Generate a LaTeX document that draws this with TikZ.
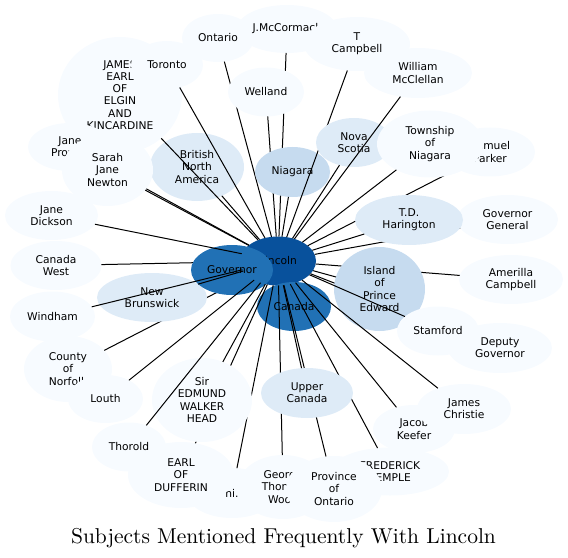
\documentclass[tikz,border=0pt]{standalone}
\usepackage{fontspec}
\usetikzlibrary{shapes.geometric}
\newfontfamily\dvsans{DejaVu Sans}
\newfontfamily\titlefont{lmroman10-regular}[Extension=.otf]
\definecolor{bA}{HTML}{F7FBFF}
\definecolor{bB}{HTML}{DEEBF7}
\definecolor{bC}{HTML}{C6DBEF}
\definecolor{bG}{HTML}{2171B5}
\definecolor{bH}{HTML}{08519C}
\begin{document}
\begin{tikzpicture}[x=1bp,y=-1bp,
  nd/.style={ellipse, inner sep=0pt, outer sep=0pt, align=center, text=black,
    font=\dvsans\fontsize{10.7bp}{12.2bp}\selectfont},
  sz/.style 2 args={minimum width=#1bp, minimum height=#2bp},
  lA/.style={nd, fill=bA}, lB/.style={nd, fill=bB}, lC/.style={nd, fill=bC},
  lG/.style={nd, fill=bG}, lH/.style={nd, fill=bH},
  ed/.style={line width=1bp, black}]
\useasboundingbox (0,0) rectangle (568,558);
\node[lH, sz={76}{49}] (lincoln) at (278,261) {Lincoln};
\node[lA, sz={91}{49}] (canadawest) at (56,265.5) {Canada\\West};
\draw[ed] (lincoln) -- (canadawest);
\node[lA, sz={88}{66}] (norfolk) at (68,369) {County\\of\\Norfolk};
\draw[ed] (lincoln) -- (norfolk);
\node[lA, sz={85}{50}] (windham) at (52.5,316.5) {Windham};
\node[lA, sz={93}{49}] (dickson) at (51.5,215.5) {Jane\\Dickson};
\node[lB, sz={110}{49}] (brunswick) at (152,297.5) {New\\Brunswick};
\node[lG, sz={82}{50}] (governor) at (232,270) {Governor};
\node[lG, sz={74}{49}] (canada) at (294,306.5) {Canada};
\draw[ed] (lincoln) -- (brunswick);
\draw[ed] (lincoln) -- (windham);
\draw[ed] (lincoln) -- (dickson);
\node[lA, sz={75}{48}] (louth) at (105.5,399) {Louth};
\draw[ed] (lincoln) -- (louth);
\node[lA, sz={72}{48}] (ontario) at (218,38) {Ontario};
\draw[ed] (lincoln) -- (ontario);
\node[lA, sz={100}{48}] (mccormack) at (287,29) {J.McCormack};
\draw[ed] (lincoln) -- (mccormack);
\node[lA, sz={76}{49}] (welland) at (266,92) {Welland};
\draw[ed] (lincoln) -- (welland);
\node[lC, sz={75}{50}] (niagara) at (292.5,172) {Niagara};
\draw[ed] (lincoln) -- (niagara);
\node[lA, sz={106}{54}] (tcampbell) at (357,44) {T\\Campbell};
\draw[ed] (lincoln) -- (tcampbell);
\node[lB, sz={76}{49}] (novascotia) at (354,142.5) {Nova\\Scotia};
\draw[ed] (lincoln) -- (novascotia);
\node[lA, sz={108}{50}] (mcclellan) at (418,73) {William\\McClellan};
\draw[ed] (lincoln) -- (mcclellan);
\node[lA, sz={90}{49}] (parker) at (490,152) {Samuel\\Parker};
\draw[ed] (lincoln) -- (parker);
\node[lA, sz={106}{67}] (township) at (430,144) {Township\\of\\Niagara};
\draw[ed] (lincoln) -- (township);
\node[lA, sz={101}{49}] (govgeneral) at (507.5,219.5) {Governor\\General};
\draw[ed] (lincoln) -- (govgeneral);
\node[lB, sz={108}{50}] (harington) at (409,220) {T.D.\\Harington};
\draw[ed] (lincoln) -- (harington);
\node[lA, sz={104}{49}] (amerilla) at (511,279.5) {Amerilla\\Campbell};
\draw[ed] (lincoln) -- (amerilla);
\node[lA, sz={104}{50}] (deputy) at (500,348) {Deputy\\Governor};
\draw[ed] (lincoln) -- (deputy);
\node[lC, sz={91}{84}] (island) at (379.5,289) {Island\\of\\Prince\\Edward};
\draw[ed] (lincoln) -- (island);
\node[lA, sz={82}{49}] (stamford) at (438,331) {Stamford};
\draw[ed] (lincoln) -- (stamford);
\node[lA, sz={82}{48}] (keefer) at (414,429) {Jacob\\Keefer};
\draw[ed] (lincoln) -- (keefer);
\node[lA, sz={94}{50}] (christie) at (464,409) {James\\Christie};
\draw[ed] (lincoln) -- (christie);
\node[lA, sz={90}{50}] (nidot) at (232,493) {ni.};
\draw[ed] (lincoln) -- (nidot);
\node[lA, sz={90}{64}] (wood) at (283,487) {George\\Thomas\\Wood};
\draw[ed] (lincoln) -- (wood);
\node[lA, sz={118}{48}] (temple) at (390,471.5) {FREDERICK\\TEMPLE};
\draw[ed] (lincoln) -- (temple);
\node[lA, sz={96}{66}] (provontario) at (334,489) {Province\\of\\Ontario};
\draw[ed] (lincoln) -- (provontario);
\node[lB, sz={92}{50}] (upper) at (307,393) {Upper\\Canada};
\draw[ed] (lincoln) -- (upper);
\node[lA, sz={106}{66}] (dufferin) at (181,475) {EARL\\OF\\DUFFERIN};
\draw[ed] (lincoln) -- (dufferin);
\node[lA, sz={100}{84}] (head) at (202,400) {Sir\\EDMUND\\WALKER\\HEAD};
\draw[ed] (lincoln) -- (head);
\node[lA, sz={74}{49}] (thorold) at (129,447) {Thorold};
\draw[ed] (lincoln) -- (thorold);
\node[lB, sz={94}{68}] (bna) at (197,167) {British\\North\\America};
\draw[ed] (lincoln) -- (bna);
\node[lA, sz={124}{116}] (elgin) at (120,95) {JAMES\\EARL\\OF\\ELGIN\\AND\\KINCARDINE};
\draw[ed] (lincoln) -- (elgin);
\node[lA, sz={72}{48}] (toronto) at (167,65) {Toronto};
\draw[ed] (lincoln) -- (toronto);
\node[lA, sz={84}{48}] (janepro) at (70,147) {Jane\\Prowse};
\draw[ed] (lincoln) -- (janepro);
\node[lA, sz={91}{72}] (sarah) at (107.5,170) {Sarah\\Jane\\Newton};
\draw[ed] (lincoln) -- (sarah);
\node[anchor=base, inner sep=0pt, font=\titlefont\fontsize{21.5bp}{25bp}\selectfont] (title) at (283.5,543) {Subjects Mentioned Frequently With Lincoln};
\end{tikzpicture}
\end{document}
